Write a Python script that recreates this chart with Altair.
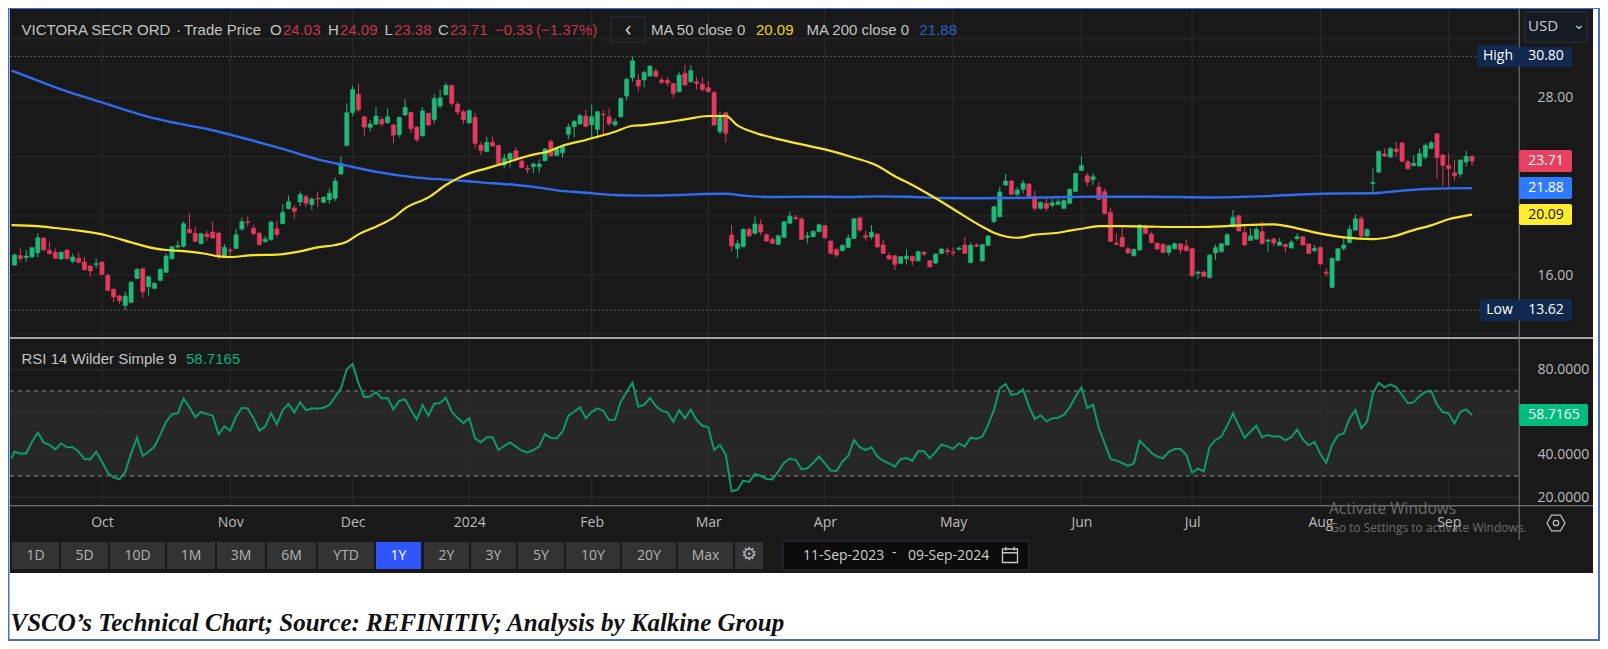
import altair as alt
import pandas as pd

# ---------------- values ----------------
opens = [16.67,17.31,17.17,17.22,17.51,18.50,17.67,17.53,17.08,17.69,
16.92,17.13,16.88,16.61,16.70,16.88,15.97,15.03,14.58,13.94,
14.15,15.77,16.43,15.21,15.10,15.64,16.18,17.10,17.89,17.94,
19.09,18.82,18.12,18.77,18.91,18.84,17.28,17.69,17.80,19.11,
19.61,19.16,18.82,18.25,18.41,19.13,19.47,20.49,20.53,20.94,
21.30,20.76,21.19,20.92,21.10,21.19,22.83,24.77,27.00,28.23,
26.71,25.99,26.20,26.53,26.31,26.15,25.50,26.83,27.01,26.01,
25.43,26.94,26.53,27.44,28.20,28.83,27.57,27.05,26.29,26.67,
24.80,24.35,24.98,24.77,23.44,23.83,24.41,23.71,23.22,23.33,
23.33,23.74,25.04,24.10,24.28,25.52,26.04,26.22,26.76,26.17,
25.86,26.87,26.71,26.17,26.71,28.11,29.35,29.20,29.20,29.47,
29.80,29.20,29.17,28.95,28.41,29.65,29.08,29.08,28.92,28.68,
28.34,25.70,26.98,18.71,17.78,17.92,19.09,18.82,19.40,18.73,
18.41,18.07,18.55,19.50,19.90,19.79,18.55,18.59,18.93,19.34,
18.30,17.73,17.65,17.87,18.48,19.86,18.66,18.57,18.77,18.03,
17.31,17.31,16.79,17.10,17.26,16.95,17.53,16.97,16.81,17.46,
17.67,17.55,17.74,18.03,16.85,18.03,16.95,18.01,19.61,19.95,
22.09,22.36,21.46,21.80,22.16,21.30,20.51,20.85,20.71,20.78,
20.51,20.85,21.66,23.08,22.72,22.47,21.95,21.64,20.24,18.16,
18.55,17.78,17.31,17.69,19.31,18.77,18.14,18.07,17.53,17.78,
18.10,17.96,17.78,16.11,16.20,15.82,17.49,17.58,18.03,19.27,
20.01,18.86,18.34,18.43,18.93,18.28,18.43,18.01,18.07,17.83,
18.46,18.59,18.10,17.65,17.87,16.20,15.16,16.99,17.80,18.19,
19.04,19.81,18.64,22.20,22.97,24.19,23.98,24.53,24.93,23.67,
23.40,23.38,23.98,24.57,25.56,24.12,23.42,22.92,22.83,23.65,
24.03]
closes = [17.35,17.10,17.28,17.85,18.52,17.69,17.44,17.13,17.55,17.10,
17.22,16.85,16.36,16.27,16.77,16.04,14.96,14.51,14.26,14.58,
15.52,16.38,14.87,15.88,15.43,16.38,17.28,17.92,17.98,19.47,
18.86,18.28,18.80,18.59,18.50,17.31,17.87,17.62,18.73,19.61,
19.54,18.80,18.05,18.43,19.58,18.75,20.24,20.96,20.31,21.46,
20.85,21.14,21.14,21.25,21.53,22.36,23.56,26.98,28.56,27.17,
26.01,26.22,26.76,26.22,26.71,25.47,26.67,27.35,25.90,25.16,
27.10,26.15,27.93,27.98,28.83,27.62,27.03,26.51,27.14,24.91,
24.44,24.98,24.73,23.51,23.89,24.23,23.78,23.28,23.15,23.51,
23.51,24.53,24.07,24.55,24.68,26.01,26.40,26.78,26.06,26.71,
27.05,26.83,26.24,26.38,27.95,29.24,30.50,28.79,29.71,30.14,
29.44,29.04,28.99,28.29,29.53,28.86,29.83,28.97,28.56,28.41,
26.15,26.76,25.59,17.96,18.12,19.09,18.64,19.45,18.91,18.30,
18.14,18.66,19.61,19.99,19.81,18.41,18.64,18.95,19.40,18.52,
17.46,17.35,18.01,18.50,19.81,19.04,18.55,18.89,17.89,17.46,
17.08,16.72,17.24,17.28,16.95,17.58,17.42,16.56,17.42,17.76,
17.58,17.49,17.83,17.46,18.01,17.94,18.05,18.64,20.62,21.62,
22.36,21.46,21.75,22.20,21.30,20.51,20.92,20.51,20.89,20.96,
21.03,21.80,22.88,23.40,22.29,22.65,21.12,20.15,18.28,18.07,
17.92,17.49,17.73,19.38,18.82,18.19,17.76,17.53,17.98,18.12,
17.71,17.65,15.95,16.20,15.91,17.35,17.85,18.12,18.73,19.90,
18.98,18.03,18.64,19.09,18.12,18.37,18.16,18.23,17.92,18.21,
18.59,18.03,17.46,17.80,16.74,16.11,17.13,17.78,18.03,19.09,
19.81,18.64,19.07,22.27,24.37,24.05,24.55,24.35,23.69,23.19,
23.56,24.21,24.77,24.95,23.96,23.42,23.19,22.72,23.78,24.03,
23.71]
highs = [17.46,17.80,17.69,17.87,18.82,18.55,18.25,17.80,17.58,17.74,
17.46,17.53,17.24,16.68,17.13,16.90,16.11,15.10,14.64,14.87,
15.55,16.49,16.45,15.93,15.50,16.45,17.46,17.96,18.32,19.61,
20.17,19.27,18.86,19.00,19.61,18.89,18.10,17.85,19.13,19.90,
19.95,19.38,18.93,18.64,19.67,19.67,20.80,21.39,20.74,21.66,
21.41,21.25,21.64,21.34,21.86,22.59,24.05,27.62,28.81,28.97,
26.76,26.49,27.39,26.71,27.28,26.22,26.71,27.93,27.05,26.08,
27.35,26.98,28.25,28.56,29.02,28.88,27.73,27.17,27.17,26.98,
25.02,25.36,25.36,24.82,24.19,24.28,24.64,24.01,23.44,23.62,
23.83,24.57,25.18,24.68,24.80,26.26,26.49,26.94,27.17,27.55,
27.10,27.17,27.28,26.60,28.00,29.38,30.80,29.60,29.83,30.19,
29.98,29.38,29.38,29.02,29.76,30.21,30.21,29.42,29.38,29.13,
28.47,27.05,27.03,19.38,18.37,19.16,19.22,19.95,19.77,18.82,
18.55,18.68,19.65,20.28,20.06,19.90,18.93,19.04,19.50,19.38,
18.32,17.80,18.07,18.75,19.86,19.95,19.00,19.38,18.82,18.37,
17.53,17.35,17.28,17.73,17.31,17.65,17.65,17.01,17.46,17.83,
17.87,17.87,17.92,18.55,18.19,18.14,18.10,18.68,20.67,21.98,
22.83,22.43,21.98,22.43,22.20,21.71,20.96,21.19,21.19,21.14,
21.12,21.86,22.92,24.05,22.88,22.88,22.29,21.86,20.58,18.82,
19.18,17.92,17.80,19.45,19.40,18.93,18.21,18.14,18.03,18.19,
18.16,18.41,17.83,16.29,16.29,17.40,18.07,18.16,18.82,20.40,
20.06,19.27,19.16,19.27,19.61,18.46,18.55,18.52,18.14,18.37,
18.82,18.64,18.14,18.03,17.92,16.45,17.17,17.80,18.48,19.36,
20.13,19.99,19.16,23.22,24.41,24.57,24.68,25.02,25.02,23.83,
24.12,24.57,24.91,25.09,25.59,24.16,24.23,23.78,23.83,24.41,
24.09]
lows = [16.63,16.90,16.90,17.19,17.19,17.65,17.40,17.10,17.06,17.06,
16.79,16.79,16.31,15.88,16.45,16.00,14.91,14.15,14.04,13.62,
14.08,15.75,14.46,14.60,15.03,15.59,16.16,17.06,17.80,17.87,
18.82,18.23,18.07,18.32,18.46,17.06,17.19,17.24,17.78,19.00,
19.27,18.71,18.01,18.19,18.32,18.55,19.43,20.44,19.77,20.67,
20.58,20.40,20.58,20.85,20.80,21.01,22.81,24.75,26.74,27.05,
25.43,25.72,26.15,26.04,26.22,24.91,25.32,26.76,25.59,25.00,
25.36,26.11,26.26,27.28,28.16,27.44,26.83,26.22,26.24,24.57,
24.12,24.32,24.68,23.42,23.22,23.28,23.67,23.22,22.88,22.88,
22.92,23.69,24.01,24.05,23.92,25.18,25.32,26.17,25.99,25.25,
25.25,25.54,26.08,26.04,26.65,27.80,29.08,28.41,28.70,29.42,
29.40,28.92,28.79,28.00,28.34,28.79,29.02,28.56,28.41,28.34,
26.08,25.54,24.95,17.58,17.13,17.87,18.59,18.77,18.71,18.25,
18.10,18.03,18.50,19.43,19.72,18.37,18.14,18.55,18.89,18.48,
17.42,17.19,17.60,17.83,18.43,18.93,18.32,18.41,17.85,17.42,
17.01,16.34,16.74,16.70,16.65,16.90,17.28,16.47,16.74,17.40,
17.35,17.28,17.65,17.42,16.79,17.89,16.90,17.96,19.54,19.90,
22.02,21.41,21.30,21.53,21.25,20.35,20.44,20.31,20.58,20.74,
20.44,20.80,21.62,23.06,22.02,22.09,21.07,20.10,18.23,18.03,
17.87,17.44,17.24,17.65,18.77,18.14,17.69,17.46,17.31,17.73,
17.42,17.60,15.88,15.73,15.88,15.77,17.01,17.53,17.98,19.22,
18.93,17.98,18.30,18.39,18.07,17.58,17.92,17.96,17.53,17.78,
18.32,17.98,17.42,17.55,16.70,15.88,15.12,16.92,17.65,18.14,
19.00,18.55,18.59,21.48,22.90,24.01,23.94,24.01,23.65,23.15,
23.35,23.33,23.83,24.53,22.54,22.02,21.98,22.38,22.61,23.33,
23.38]

ma50_idx = [-0.5,4,7,11,16,20,24,26,29,33,35,37,41,45,49,52,55,57,59,62,65,67,71,74,76,78,81,84,87,90,
91,94,98,100,103,106,108,112,115,119,122,124,127,131,135,139,144,148,151,154,158,162,166,168,172,175,179,181,
183,186,190,195,199,203,207,211,216,220,224,228,233,236,240,243,246,250]
ma50_val = [19.38,19.31,19.18,19.00,18.66,18.21,17.80,17.69,17.62,17.42,17.26,17.22,17.35,17.38,17.60,17.87,18.03,18.25,18.75,19.27,19.88,20.51,21.25,22.09,22.54,22.88,23.22,23.56,23.94,24.23,
24.30,24.75,25.14,25.36,25.70,26.10,26.15,26.35,26.53,26.76,26.76,26.13,25.63,25.20,24.84,24.50,23.94,23.40,22.68,22.09,21.19,20.22,19.27,18.86,18.52,18.73,18.86,19.00,
19.13,19.31,19.31,19.27,19.25,19.25,19.29,19.38,19.43,19.16,18.80,18.55,18.43,18.57,19.04,19.36,19.77,20.09]
ma200_idx = [-0.5,3,8,15,19,24,28,33,39,46,52,57,62,69,75,80,86,90,93,98,103,108,114,118,122,125,130,136,142,148,153,159,165,171,181,185,194,205,215,224,233,238,243,250]
ma200_val = [29.83,29.31,28.56,27.68,27.17,26.60,26.26,25.88,25.29,24.53,23.83,23.40,22.99,22.59,22.43,22.27,22.09,21.91,21.73,21.57,21.41,21.37,21.41,21.48,21.50,21.37,21.28,21.30,21.28,21.32,21.30,21.21,21.19,21.21,21.28,21.30,21.30,21.25,21.34,21.50,21.53,21.71,21.84,21.88]
rsi_first = 38.3
rsi = [41.4,40.6,40.6,46.1,50.4,45.8,44.6,42.5,45.3,43.5,43.5,41.4,38.0,37.8,41.4,36.7,31.5,29.3,28.4,32.0,
40.6,48.0,39.4,41.4,43.8,49.3,55.5,59.0,59.5,66.4,62.3,57.7,60.1,59.1,58.4,49.6,53.3,51.3,57.9,62.1,
61.8,57.1,51.3,53.2,59.5,54.3,61.0,63.8,59.9,64.8,60.9,61.8,61.6,62.1,63.4,67.3,71.2,80.2,82.7,73.6,
67.1,67.4,69.5,66.5,66.7,61.3,65.4,66.0,61.0,56.5,63.4,58.4,64.0,64.3,66.8,60.1,57.4,54.9,57.3,47.7,
45.8,48.2,48.2,42.2,44.1,45.8,43.8,41.9,41.1,42.2,43.8,49.7,47.8,47.7,50.8,58.4,60.2,62.3,57.1,60.2,
61.8,60.6,56.2,56.5,64.9,69.6,73.9,62.6,63.5,66.7,62.9,60.7,59.8,55.5,61.0,57.1,61.2,56.3,53.6,52.9,
42.2,44.6,40.2,22.8,23.4,27.8,27.2,30.9,30.0,28.6,28.4,32.0,36.2,38.1,37.6,33.1,33.6,36.2,39.1,35.9,
32.5,32.3,36.7,39.4,46.9,43.5,42.2,43.5,39.1,37.2,35.9,34.4,38.0,38.4,37.2,41.6,41.6,38.3,41.4,44.7,
43.9,42.8,45.3,43.8,48.0,47.5,48.5,54.0,61.0,71.2,73.3,68.1,68.6,70.7,62.9,56.8,58.5,55.7,57.1,57.4,
58.7,62.3,67.3,71.7,62.0,63.5,52.4,45.3,38.0,37.2,36.1,34.7,35.9,46.6,43.8,40.9,39.1,38.3,41.4,42.7,
42.7,39.8,31.5,33.4,32.2,43.8,46.9,48.5,53.6,59.5,53.6,48.0,50.8,53.6,48.2,49.3,48.6,48.6,46.8,48.3,
51.8,47.2,44.4,46.0,40.3,36.2,44.6,49.1,50.0,57.1,61.0,52.4,55.5,68.9,73.9,71.7,73.1,71.7,68.1,64.2,
64.6,67.6,69.5,70.0,63.4,60.1,59.5,54.7,60.2,61.3,58.7165]

month_idx = [15,37,58,78,99,119,139,161,183,202,224,246]
month_lbl = ["Oct","Nov","Dec","2024","Feb","Mar","Apr","May","Jun","Jul","Aug","Sep"]
price_grid = [12,16,20,24,28,32]
price_ticks = [28,16]
hi_lo = [30.80,13.62]
rsi_grid = [20,40,60,80]
rsi_ticks = [80,40,20]
rsi_bands = [70,30]

assert len(opens)==len(closes)==len(highs)==len(lows)==len(rsi)==251

# ---------------- colours ----------------
PANEL="#191919"; GRID="#2b2b2b"; BAND="#272727"
GREEN="#1fb978"; RED="#e33a5e"; YEL="#f7e62b"; BLU="#2f6cf0"; RSIC="#0f9a6e"
GREY="#c4c4c4"; NUMRED="#c9354f"; NAVY="#11294f"; FONT="Liberation Sans"; AXF="Open Sans"
W,H=1592,633
OFF=8

# ---------------- scales ----------------
X=alt.Scale(domain=[-0.5,250],range=[3.6,1464],nice=False,zero=False,padding=0)
YP=alt.Scale(domain=[12,32],range=[326.1,30.6],nice=False,zero=False)
YR=alt.Scale(domain=[20,80],range=[489.2,361.7],nice=False,zero=False)
PL,PR=2,1511   # plot left/right on the canvas

cand=pd.DataFrame(dict(i=range(251),o=opens,c=closes,h=highs,l=lows))
cand["d"]=["up" if c>=o else "down" for o,c in zip(opens,closes)]
CDIR=alt.Color("d:N",scale=alt.Scale(domain=["up","down"],range=[GREEN,RED]),legend=None)

# ---------------- chrome helpers (page pixels, passed through unscaled) ----------------
def rects(rows,**mk):
    df=pd.DataFrame(rows,columns=["x0","x1","y0","y1","f"])
    for k in ["x0","x1","y0","y1"]: df[k]=df[k]-OFF
    return alt.Chart(df).mark_rect(**mk).encode(
        x=alt.X("x0:Q",scale=None),x2="x1:Q",y=alt.Y("y0:Q",scale=None),y2="y1:Q",
        color=alt.Color("f:N",scale=None))
def texts(rows,size=14,font=FONT,align="left",**mk):
    df=pd.DataFrame(rows,columns=["x","y","t","f"])
    df["x"]-=OFF; df["y"]-=OFF
    return alt.Chart(df).mark_text(fontSize=size,font=font,align=align,baseline="middle",**mk).encode(
        x=alt.X("x:Q",scale=None),y=alt.Y("y:Q",scale=None),text="t:N",color=alt.Color("f:N",scale=None))
def icon(x,y,path,size,color,sw=1.3):
    df=pd.DataFrame({"x":[x-OFF],"y":[y-OFF]})
    return alt.Chart(df).mark_point(shape=path,size=size,filled=False,color=color,strokeWidth=sw,opacity=1).encode(
        x=alt.X("x:Q",scale=None),y=alt.Y("y:Q",scale=None))

# ---------------- background ----------------
btn=[(12,59),(61,108),(110,165),(167,215),(217,265),(267,316),(318,374),(424,469),(471,516),(518,564),(566,620),(622,676),(678,733),(735,763)]
bg=rects([(10,1593,9,573,PANEL)]+[(a,b,542,569,"#333333") for a,b in btn]+[(376,421,542,569,"#2f55ff")])
boxes=rects([(611,645,17,42,PANEL),(783,1029,541,570,"#0c0c0c"),(1525,1587,12,42,"#141a22")],stroke="#2c3340",strokeWidth=1)

# ---------------- grids ----------------
g_h=alt.Chart(pd.DataFrame({"p":price_grid})).mark_rule(color=GRID,strokeWidth=1).encode(
    y=alt.Y("p:Q",scale=YP,axis=None),x=alt.value(PL),x2=alt.value(PR))
g_v=alt.Chart(pd.DataFrame({"m":month_idx})).mark_rule(color=GRID,strokeWidth=1).encode(
    x=alt.X("m:Q",scale=X,title=None,axis=alt.Axis(values=month_idx,orient="bottom",offset=-(H-498),
        domain=False,ticks=False,grid=False,labelFont=AXF,labelFontSize=14,labelColor="#bdbdbd",labelPadding=9,
        labelOverlap=False,labelFlush=False,labelBound=False,zindex=1,
        labelExpr="%s[indexof(%s,datum.value)]"%(month_lbl,month_idx))),
    y=alt.value(1),y2=alt.value(497.7))
g_hl=alt.Chart(pd.DataFrame({"p":hi_lo})).mark_rule(color="#5a5a5a",strokeWidth=1,strokeDash=[2,2]).encode(
    y=alt.Y("p:Q",scale=YP,axis=None),x=alt.value(PL),x2=alt.value(PR))
band=alt.Chart(pd.DataFrame({"a":[rsi_bands[0]],"b":[rsi_bands[1]]})).mark_rect(color=BAND).encode(
    y=alt.Y("a:Q",scale=YR,axis=None),y2="b:Q",x=alt.value(PL),x2=alt.value(PR))
g_r=alt.Chart(pd.DataFrame({"p":rsi_grid})).mark_rule(color="#303030",strokeWidth=1).encode(
    y=alt.Y("p:Q",scale=YR,axis=None),x=alt.value(PL),x2=alt.value(PR))
g_rd=alt.Chart(pd.DataFrame({"p":rsi_bands})).mark_rule(color="#8c8c8c",strokeWidth=1,strokeDash=[4,4]).encode(
    y=alt.Y("p:Q",scale=YR,axis=None),x=alt.value(PL),x2=alt.value(PR))

# ---------------- data marks ----------------
wick=alt.Chart(cand).mark_rule(strokeWidth=1).encode(
    x=alt.X("i:Q",scale=X),
    y=alt.Y("l:Q",scale=YP,title=None,axis=alt.Axis(values=price_ticks,orient="right",offset=PR-W,format=".2f",
        domain=False,ticks=False,grid=False,labelFont=AXF,labelFontSize=14,labelColor="#bdbdbd",labelPadding=18,zindex=1,labelOverlap=False)),
    y2="h:Q",color=CDIR)
body=alt.Chart(cand).mark_bar(size=4.2,orient="vertical",strokeWidth=0.6).encode(
    x=alt.X("i:Q",scale=X),y=alt.Y("o:Q",scale=YP,axis=None),y2="c:Q",color=CDIR,stroke=CDIR)
l50=alt.Chart(pd.DataFrame({"i":ma50_idx,"v":ma50_val})).mark_line(color=YEL,strokeWidth=2.2,interpolate="monotone").encode(
    x=alt.X("i:Q",scale=X),y=alt.Y("v:Q",scale=YP,axis=None))
l200=alt.Chart(pd.DataFrame({"i":ma200_idx,"v":ma200_val})).mark_line(color=BLU,strokeWidth=2.4,interpolate="monotone").encode(
    x=alt.X("i:Q",scale=X),y=alt.Y("v:Q",scale=YP,axis=None))
lrsi=alt.Chart(pd.DataFrame({"i":[-0.5]+list(range(251)),"v":[rsi_first]+rsi})).mark_line(color=RSIC,strokeWidth=2).encode(
    x=alt.X("i:Q",scale=X),
    y=alt.Y("v:Q",scale=YR,title=None,axis=alt.Axis(values=rsi_ticks,orient="right",offset=PR-W,format=".4f",
        domain=False,ticks=False,grid=False,labelFont=AXF,labelFontSize=14,labelColor="#bdbdbd",labelPadding=18,zindex=1,labelOverlap=False)))

# ---------------- separators, tags, frame ----------------
lines=rects([(10,1593,337.3,338.8,"#d0d0d0"),(10,1593,505.2,506.2,"#8a8a8a"),(1518.7,1519.7,9,540,"#7d7d7d"),
             (1598,1600,8,641,"#4472c4"),(8,1600,639,641,"#4472c4"),(8,1600,8,9,"#4472c4"),(8,9.5,8,641,"#4472c4")])
tags=rects([(1477,1519,45,67,NAVY),(1519,1572,47,67,NAVY),(1480,1519,299,321,NAVY),(1519,1572,299,321,NAVY),
            (1519,1572,150,172,"#e8405f"),(1519,1572,177,199,"#2f7bff"),(1519,1572,204,225,"#ffec2f"),(1519,1588,404,426,"#00bd7e")],cornerRadius=2)

hdr=texts([(21.5,30,"VICTORA SECR ORD",GREY),(176,30,"·",GREY),(184,30,"Trade Price",GREY),(270,30,"O",GREY),(283,30,"24.03",NUMRED),
           (328,30,"H",GREY),(340,30,"24.09",NUMRED),(384.5,30,"L",GREY),(394,30,"23.38",NUMRED),
           (438,30,"C",GREY),(450,30,"23.71",NUMRED),(495,30,"−0.33",NUMRED),(536,30,"(−1.37%)",NUMRED),
           (651,30,"MA 50 close 0",GREY),(756,30,"20.09","#ecd71e"),(806.5,30,"MA 200 close 0",GREY),(919.5,30,"21.88","#2a62c8"),
           (21.5,359,"RSI 14 Wilder Simple 9",GREY),(186,359,"58.7165","#00b67a")],size=15)
tagtxt=texts([(1546,56,"30.80","#ffffff"),(1546,310,"13.62","#ffffff"),(1546,161,"23.71","#ffffff"),(1546,188,"21.88","#ffffff"),
              (1546,214.5,"20.09","#111111"),(1554,415,"58.7165","#ffffff"),(1498,56,"High","#ffffff"),(1499.5,310,"Low","#ffffff")],
             size=14,font=AXF,align="center")
usd=texts([(1528,26,"USD","#c8cdd6")],size=15,font=AXF)
usdc=icon(1579,27,"M-1,-0.4L0,0.5L1,-0.4",28,"#c8cdd6")
chev=texts([(628,29,"‹","#d8d8d8")],size=22,font=AXF,align="center")
btxt=texts([(c,555.5,t,"#b4b4b4") for c,t in [(35.5,"1D"),(84.5,"5D"),(137.5,"10D"),(191,"1M"),(241,"3M"),(291.5,"6M"),(346,"YTD"),
            (446.5,"2Y"),(493.5,"3Y"),(541,"5Y"),(593,"10Y"),(649,"20Y"),(705.5,"Max")]]+[(398.5,555.5,"1Y","#ffffff")],
           size=14,font=AXF,align="center")
gear=texts([(749,555,"⚙","#b4b4b4")],size=18,font="DejaVu Sans",align="center")
date=texts([(803,555.5,"11-Sep-2023","#cfcfcf"),(908,555.5,"09-Sep-2024","#cfcfcf"),(892,553,"-","#cfcfcf")],size=14,font=AXF)
cal=icon(1010,555,"M-1,-0.8H1V1H-1ZM-1,-0.3H1M-0.55,-1.1V-0.6M0.55,-1.1V-0.6",225,"#c8c8c8")
hexi=icon(1556,523,"M-1,0L-0.5,-0.87L0.5,-0.87L1,0L0.5,0.87L-0.5,0.87Z",324,"#bdbdbd")
hexc=icon(1556,523,"M-0.3,0A0.3,0.3 0 1 0 0.3,0A0.3,0.3 0 1 0 -0.3,0Z",324,"#bdbdbd")
wm1=texts([(1329,509,"Activate Windows","#6e6e6e")],size=15.5,font=AXF)
wm2=texts([(1330,527.5,"Go to Settings to activate Windows.","#6e6e6e")],size=12,font=AXF)
cap=texts([(10.5,623,"VSCO’s Technical Chart; Source: REFINITIV; Analysis by Kalkine Group","#111111")],
          size=25,font="Liberation Serif",fontStyle="italic",fontWeight="bold")

chart=alt.layer(bg,boxes,g_h,band,g_r,g_v,g_hl,g_rd,wick,body,l200,l50,lrsi,lines,tags,hdr,tagtxt,usd,usdc,chev,btxt,gear,date,cal,hexi,hexc,wm1,wm2,cap
    ).resolve_scale(y="independent").properties(width=W,height=H,padding=0,background="#ffffff",
    autosize=alt.AutoSizeParams(type="none",contains="content")).configure_view(strokeWidth=0)

chart.save("out.html", embed_options={"renderer": "svg", "actions": False})
